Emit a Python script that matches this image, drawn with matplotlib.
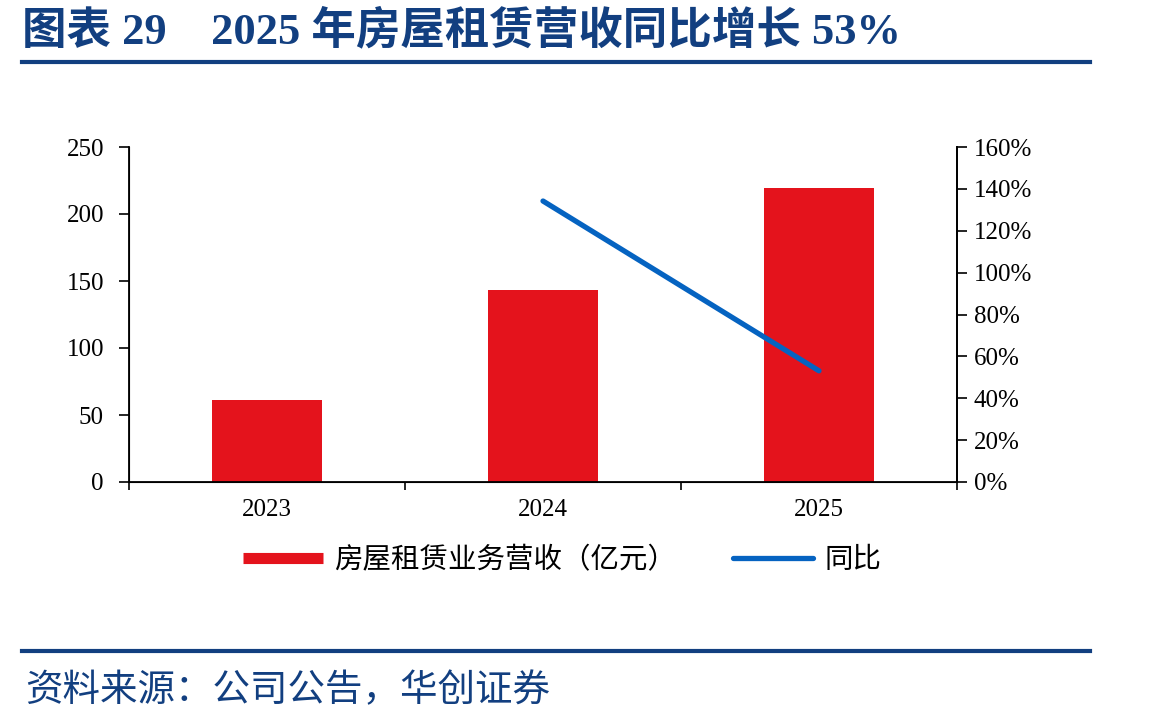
import matplotlib
matplotlib.use("Agg")
import matplotlib.pyplot as plt
from matplotlib.lines import Line2D
from matplotlib.ticker import FuncFormatter

# data
years = ["2023", "2024", "2025"]
revenue = [61.2, 143.3, 219.4]          # 房屋租赁业务营收（亿元）
yoy_years = ["2024", "2025"]
yoy = [134.2, 53.1]                     # 同比, %

title = "图表 29    2025 年房屋租赁营收同比增长 53%"
source = "资料来源：公司公告，华创证券"
bar_label = "房屋租赁业务营收（亿元）"
line_label = "同比"

RED = "#E4131C"
BLUE = "#0563C1"
NAVY = "#123F80"
serif = ["Liberation Serif", "Noto Sans CJK SC"]
cjk = ["Noto Sans CJK SC", "DejaVu Sans"]

fig = plt.figure(figsize=(11.49, 7.27), dpi=100)
ax = fig.add_axes([129 / 1149, 1 - 482 / 727, (957 - 129) / 1149, (482 - 147) / 727])

x = list(range(len(years)))
ax.bar(x, revenue, width=0.4, color=RED, zorder=2)
ax.set_xlim(-0.5, len(years) - 0.5)
ax.set_ylim(0, 250)
ax.set_yticks(range(0, 251, 50))
ax.set_xticks(x)
ax.set_xticklabels(years)
ax.set_xticks([i - 0.5 for i in range(len(years) + 1)], minor=True)
ax.tick_params(axis="x", which="major", length=0, pad=12)
ax.tick_params(axis="x", which="minor", length=6, width=1.2, direction="out")
ax.tick_params(axis="y", length=7, width=1.2, direction="out", pad=11)
for lab in ax.get_xticklabels() + ax.get_yticklabels():
    lab.set_family(serif)
    lab.set_fontsize(18)
ax.spines["top"].set_visible(False)
for s in ["left", "bottom", "right"]:
    ax.spines[s].set_linewidth(1.3)

ax2 = ax.twinx()
xi = [years.index(y) for y in yoy_years]
ax2.plot(xi, yoy, color=BLUE, lw=3.8, solid_capstyle="round", zorder=3)
ax2.set_ylim(0, 160)
ax2.set_yticks(range(0, 161, 20))
ax2.yaxis.set_major_formatter(FuncFormatter(lambda v, p: f"{v:.0f}%"))
ax2.tick_params(axis="y", length=7, width=1.2, direction="out", pad=5)
for lab in ax2.get_yticklabels():
    lab.set_family(serif)
    lab.set_fontsize(18)
ax2.spines["top"].set_visible(False)
ax2.spines["right"].set_linewidth(1.3)

handles = [
    Line2D([], [], color=RED, lw=8, solid_capstyle="butt"),
    Line2D([], [], color=BLUE, lw=3.8, solid_capstyle="round"),
]
fig.legend(handles, [bar_label, line_label], loc="center left",
           bbox_to_anchor=(243 / 1149, 1 - 560 / 727), ncol=2, frameon=False,
           prop={"family": cjk, "size": 20.5}, handlelength=2.8,
           handletextpad=0.4, columnspacing=2.0, borderaxespad=0,
           borderpad=0)

# title and footer
fig.text(22 / 1149, 1 - 31 / 727, title, family=serif, fontsize=32,
         fontweight="bold", color=NAVY, va="center", ha="left")
fig.add_artist(Line2D([22 / 1149, 1090 / 1149], [1 - 62 / 727] * 2,
                      color=NAVY, lw=3))
fig.add_artist(Line2D([22 / 1149, 1090 / 1149], [1 - 651 / 727] * 2,
                      color=NAVY, lw=3))
fig.text(25 / 1149, 1 - 691 / 727, source, family=cjk, fontsize=27,
         color=NAVY, va="center", ha="left")

fig.savefig("out.png", dpi=100)
